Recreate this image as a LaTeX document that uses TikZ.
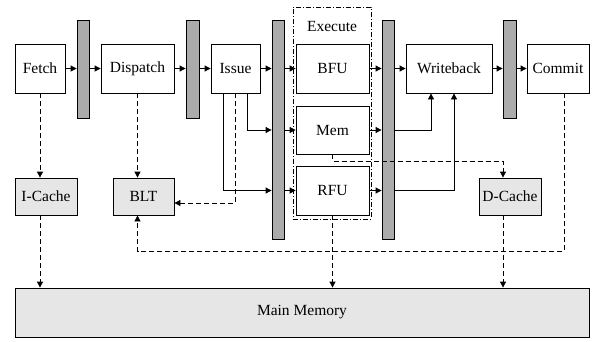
\documentclass[tikz,border=0pt]{standalone}
\usepackage{fontspec}
\setmainfont{Liberation Serif}
\usetikzlibrary{arrows.meta}
\definecolor{latchgray}{HTML}{ABABAB}
\definecolor{cachegray}{HTML}{E6E6E6}
\begin{document}
\begin{tikzpicture}[x=1pt,y=-1pt,
  every node/.style={font=\fontsize{15.5}{18}\selectfont},
  box/.style={draw, line width=0.8pt, inner sep=0pt, minimum height=49pt},
  cache/.style={box, fill=cachegray, minimum height=37pt},
  latch/.style={draw, fill=latchgray, line width=0.8pt, inner sep=0pt, minimum width=12pt},
  execbox/.style={draw, line width=0.7pt, inner sep=0pt, dash pattern=on 5pt off 2pt on 1pt off 2pt},
  arr/.style={line width=0.8pt, -{Triangle[length=6pt,width=6pt]}},
  darr/.style={arr, dash pattern=on 5pt off 3pt},
]
\useasboundingbox (0,0) rectangle (592,341);
% execute frame
\node[execbox, minimum width=78pt, minimum height=212pt] (exec) at (332,113) {};
\node (execlbl) at (332,26) {Execute};
% pipeline
\node[box, minimum width=50pt] (fetch) at (40,68.5) {Fetch};
\node[latch, minimum height=98pt] (L1) at (83,69) {};
\node[box, minimum width=73pt] (dispatch) at (137.5,68.5) {Dispatch};
\node[latch, minimum height=98pt, minimum width=13pt] (L2) at (192.5,69) {};
\node[box, minimum width=49pt] (issue) at (235.5,68.5) {Issue};
\node[latch, minimum height=219pt] (L3) at (278,129.5) {};
\node[box, minimum width=73pt] (bfu) at (332.5,68.5) {BFU};
\node[box, minimum width=73pt, minimum height=48pt] (mem) at (332.5,130) {Mem};
\node[box, minimum width=73pt] (rfu) at (332.5,190.5) {RFU};
\node[latch, minimum height=219pt] (L4) at (388,129.5) {};
\node[box, minimum width=86pt] (wb) at (449,68.5) {Writeback};
\node[latch, minimum height=98pt, minimum width=13pt] (L5) at (509.5,69) {};
\node[box, minimum width=62pt] (commit) at (558,68.5) {Commit};
% caches and memory
\node[cache, minimum width=62pt] (icache) at (46,196.5) {I-Cache};
\node[cache, minimum width=61pt] (blt) at (143.5,196.5) {BLT};
\node[cache, minimum width=62pt] (dcache) at (510,196.5) {D-Cache};
\node[box, fill=cachegray, minimum width=574pt] (mainmem) at (302,312.5) {Main Memory};
% pipeline connectors
\draw[arr] (fetch.east) -- (fetch.east -| L1.west);
\draw[arr] (L1.east |- dispatch.west) -- (dispatch.west);
\draw[arr] (dispatch.east) -- (dispatch.east -| L2.west);
\draw[arr] (L2.east |- issue.west) -- (issue.west);
\draw[arr] (issue.east) -- (issue.east -| L3.west);
\draw[arr] ([xshift=12pt]issue.south) |- (L3.west |- mem.west);
\draw[arr] ([xshift=-12pt]issue.south) |- (L3.west |- rfu.west);
\draw[arr] (L3.east |- bfu.west) -- (bfu.west);
\draw[arr] (L3.east |- mem.west) -- (mem.west);
\draw[arr] (L3.east |- rfu.west) -- (rfu.west);
\draw[arr] (bfu.east) -- (bfu.east -| L4.west);
\draw[arr] (mem.east) -- (mem.east -| L4.west);
\draw[arr] (rfu.east) -- (rfu.east -| L4.west);
\draw[arr] (L4.east |- wb.west) -- (wb.west);
\draw[arr] (L4.east |- mem.east) -| ([xshift=-18pt]wb.south);
\draw[arr] (L4.east |- rfu.east) -| ([xshift=5pt]wb.south);
\draw[arr] (wb.east) -- (wb.east -| L5.west);
\draw[arr] (L5.east |- commit.west) -- (commit.west);
% dashed connectors
\draw[darr] (issue.south) |- ([yshift=-6.5pt]blt.east);
\draw[darr] (fetch.south) -- (fetch.south |- icache.north);
\draw[darr] (dispatch.south) -- (dispatch.south |- blt.north);
\draw[darr] (icache.south -| fetch.south) -- (fetch.south |- mainmem.north);
\draw[darr] (mem.south) -- ++(0,7) -| ([xshift=-7pt]dcache.north);
\draw[darr] (rfu.south) -- (rfu.south |- mainmem.north);
\draw[darr] ([xshift=-7pt]dcache.south) -- ([xshift=-7pt]dcache.south |- mainmem.north);
\draw[darr] ([xshift=6pt]commit.south) -- ++(0,158) -| (blt.south -| dispatch.south);
\end{tikzpicture}
\end{document}
